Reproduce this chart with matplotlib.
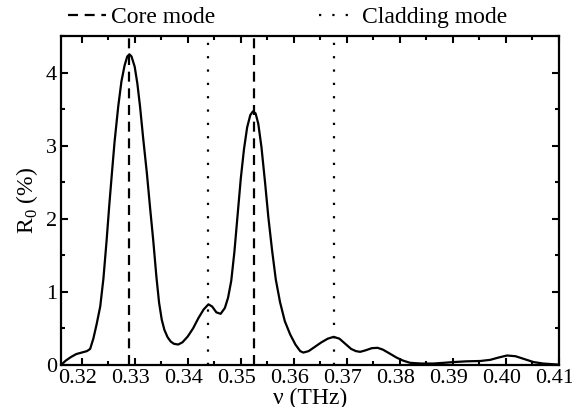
import numpy as np
import matplotlib
matplotlib.use('Agg')
import matplotlib.pyplot as plt
import matplotlib.transforms as mtransforms
from matplotlib.ticker import MultipleLocator, FormatStrFormatter

plt.rcParams['font.family'] = ['Liberation Serif', 'DejaVu Serif']
plt.rcParams['mathtext.fontset'] = 'custom'
plt.rcParams['mathtext.rm'] = 'Liberation Serif'

# reflectance curve
freq = [0.3161, 0.3170, 0.3180, 0.3190, 0.3200, 0.3210, 0.3216, 0.3222, 0.3228,
        0.3235, 0.3241, 0.3247, 0.3252, 0.3257, 0.3262, 0.3269, 0.3275, 0.3281,
        0.3286, 0.3290, 0.3294, 0.3300, 0.3305, 0.3310, 0.3316, 0.3323, 0.3329,
        0.3335, 0.3341, 0.3346, 0.3351, 0.3356, 0.3362, 0.3368, 0.3374, 0.3382,
        0.3390, 0.3400, 0.3410, 0.3420, 0.3430, 0.3439, 0.3446, 0.3454, 0.3462,
        0.3470, 0.3476, 0.3482, 0.3488, 0.3494, 0.3500, 0.3506, 0.3512, 0.3518,
        0.3523, 0.3528, 0.3533, 0.3539, 0.3546, 0.3552, 0.3559, 0.3566, 0.3574,
        0.3583, 0.3593, 0.3603, 0.3612, 0.3618, 0.3628, 0.3640, 0.3652, 0.3664,
        0.3675, 0.3686, 0.3697, 0.3708, 0.3717, 0.3725, 0.3735, 0.3747, 0.3758,
        0.3768, 0.3780, 0.3794, 0.3806, 0.3819, 0.3840, 0.3863, 0.3883, 0.3901,
        0.3925, 0.3952, 0.3970, 0.3985, 0.4002, 0.4018, 0.4035, 0.4052, 0.4070,
        0.4090, 0.4100]
refl = [0.00, 0.06, 0.11, 0.15, 0.17, 0.19, 0.22, 0.36, 0.55,
        0.80, 1.18, 1.70, 2.18, 2.62, 3.05, 3.54, 3.88, 4.10,
        4.22, 4.25, 4.22, 4.08, 3.85, 3.54, 3.10, 2.62, 2.15,
        1.70, 1.20, 0.85, 0.62, 0.48, 0.38, 0.32, 0.29, 0.28,
        0.31, 0.39, 0.50, 0.64, 0.76, 0.83, 0.80, 0.72, 0.70,
        0.78, 0.92, 1.15, 1.55, 2.05, 2.55, 2.95, 3.25, 3.42,
        3.47, 3.44, 3.30, 2.98, 2.48, 2.02, 1.57, 1.17, 0.86,
        0.60, 0.42, 0.28, 0.19, 0.17, 0.19, 0.25, 0.31, 0.36,
        0.385, 0.36, 0.29, 0.22, 0.19, 0.18, 0.20, 0.23, 0.235,
        0.21, 0.16, 0.10, 0.06, 0.03, 0.02, 0.02, 0.03, 0.04,
        0.05, 0.055, 0.07, 0.10, 0.13, 0.12, 0.08, 0.04, 0.02,
        0.01, 0.005]

core_modes = [0.3290, 0.3524]
cladding_modes = [0.3439, 0.3675]

fig = plt.figure(figsize=(5.72, 4.07), dpi=100)
ax = fig.add_axes([0.1066, 0.1032, 0.9773 - 0.1066, 0.9115 - 0.1032])

ax.plot(freq, refl, color='black', lw=1.6)
for i, f in enumerate(core_modes):
    ax.axvline(f, color='black', lw=1.6, ls=(0, (4.5, 3)),
               label='Core mode' if i == 0 else None)
for i, f in enumerate(cladding_modes):
    ax.axvline(f, color='black', lw=1.6, ls=(0, (1, 5)),
               label='Cladding mode' if i == 0 else None)

ax.set_xlim(0.3161, 0.41)
ax.set_ylim(0, 4.5)
ax.xaxis.set_major_locator(MultipleLocator(0.01))
ax.xaxis.set_minor_locator(MultipleLocator(0.005))
ax.xaxis.set_major_formatter(FormatStrFormatter('%.2f'))
ax.yaxis.set_major_locator(MultipleLocator(1))
ax.yaxis.set_minor_locator(MultipleLocator(0.5))
ax.tick_params(which='both', direction='in', top=True, right=True,
               labelsize=16, width=1.5, pad=3)
ax.tick_params(which='major', length=5)
ax.tick_params(which='minor', length=2.6)
for s in ax.spines.values():
    s.set_linewidth(1.6)

# x tick labels sit a little left of their ticks in the original
shift = mtransforms.ScaledTranslation(-4 / 100, 0, fig.dpi_scale_trans)
for lbl in ax.get_xticklabels():
    lbl.set_transform(lbl.get_transform() + shift)

ax.set_xlabel('ν (THz)', fontsize=17, labelpad=0)
ax.set_ylabel('R$_\\mathrm{0}$ (%)', fontsize=17, labelpad=4)

ax.legend(loc='lower left', bbox_to_anchor=(-0.004, 0.996), ncol=2,
          frameon=False, fontsize=17, handlelength=1.6, handletextpad=0.2,
          columnspacing=4.4, borderaxespad=0)

fig.savefig('out.png', dpi=100)
